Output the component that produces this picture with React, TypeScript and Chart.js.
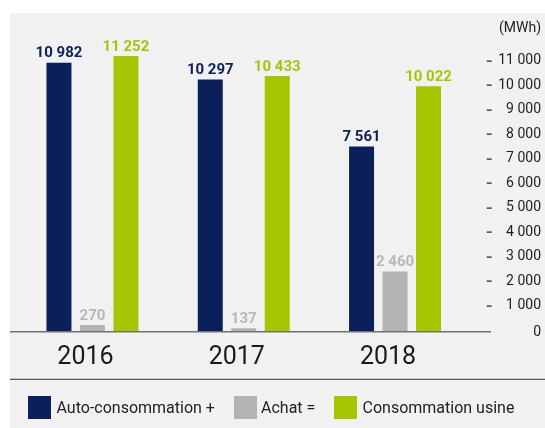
import React, { useEffect, useRef } from "react";
import { Chart, registerables } from "chart.js";

Chart.register(...registerables);

const years = ["2016", "2017", "2018"];
const autoConsommation = [10982, 10297, 7561];
const achat = [270, 137, 2460];
const consommationUsine = [11252, 10433, 10022];
const yTickValues = [0, 1000, 2000, 3000, 4000, 5000, 6000, 7000, 8000, 9000, 10000, 11000];
const unitLabel = "(MWh)";
const legendLabels = ["Auto-consommation +", "Achat =", "Consommation usine"];
const colors = ["#0b1f5a", "#b3b3b3", "#a6c400"];
const labelColors = ["#0e2058", "#b8b8b8", "#a8c40a"];

const fmt = (n: number) => String(n).replace(/\B(?=(\d{3})+(?!\d))/g, " ");

const PANEL_W = 535;
const PANEL_H = 415;

const decorPlugin = {
  id: "decor",
  afterDatasetsDraw(chart: any) {
    const ctx = chart.ctx;
    const x = chart.scales.x;
    const y = chart.scales.y;
    ctx.save();
    // value labels
    ctx.textAlign = "center";
    ctx.textBaseline = "alphabetic";
    ctx.font = "bold 15px Roboto";
    chart.data.datasets.forEach((ds: any, di: number) => {
      const meta = chart.getDatasetMeta(di);
      meta.data.forEach((bar: any, i: number) => {
        ctx.fillStyle = labelColors[di];
        ctx.fillText(fmt(ds.data[i]), bar.x, bar.y - 5.5);
      });
    });
    // baseline
    const y0 = y.getPixelForValue(0);
    ctx.strokeStyle = "#707070";
    ctx.lineWidth = 1.5;
    ctx.beginPath();
    ctx.moveTo(0, y0);
    ctx.lineTo(481, y0);
    ctx.stroke();
    // separator
    ctx.strokeStyle = "#5a5a5a";
    ctx.lineWidth = 1.3;
    ctx.beginPath();
    ctx.moveTo(0, 366.3);
    ctx.lineTo(PANEL_W, 366.3);
    ctx.stroke();
    // y ticks
    ctx.font = "14px Roboto";
    ctx.textAlign = "right";
    ctx.textBaseline = "middle";
    ctx.fillStyle = "#1e1e1e";
    yTickValues.forEach((v) => {
      const py = y.getPixelForValue(v) - (v === 0 ? -1 : 1.5);
      ctx.fillText(fmt(v), 531, py);
      if (v !== 0) {
        ctx.fillRect(476.7, Math.round(py) - 0.5, 5, 1.2);
      }
    });
    ctx.fillText(unitLabel, 531, 15.5);
    // year labels
    ctx.font = "25px Roboto";
    ctx.textAlign = "center";
    ctx.fillStyle = "#1a1a1a";
    years.forEach((yr, i) => {
      ctx.fillText(yr, x.getPixelForValue(i) - 7, 344.5);
    });
    ctx.restore();
  },
};

export default function App() {
  const ref = useRef<HTMLCanvasElement>(null);
  useEffect(() => {
    document.body.style.margin = "0";
    document.body.style.overflow = "hidden";
    document.documentElement.style.overflow = "hidden";
    if (!ref.current) return;
    const chart = new Chart(ref.current, {
      type: "bar",
      data: {
        labels: years,
        datasets: [
          { label: legendLabels[0], data: autoConsommation, backgroundColor: colors[0] },
          { label: legendLabels[1], data: achat, backgroundColor: colors[1] },
          { label: legendLabels[2], data: consommationUsine, backgroundColor: colors[2] },
        ].map((d) => ({ ...d, borderWidth: 0, categoryPercentage: 0.664, barPercentage: 0.746 })),
      },
      options: {
        animation: false,
        responsive: false,
        devicePixelRatio: 1,
        layout: { padding: { left: 6.8, right: 74.3, top: 24.7, bottom: 96.3 } },
        plugins: { legend: { display: false }, tooltip: { enabled: false } },
        scales: {
          x: { display: false },
          y: { display: false, min: 0, max: 12000, ticks: { stepSize: 1000 } },
        },
      },
      plugins: [decorPlugin],
    });
    return () => chart.destroy();
  }, []);

  const legendPos = [
    { sq: 28, tx: 56.5 },
    { sq: 233.5, tx: 261 },
    { sq: 333.5, tx: 362.5 },
  ];

  return (
    <div style={{ position: "fixed", left: 0, top: 0, width: 545, height: 428, overflow: "hidden", background: "#fff" }}>
      <div
        style={{
          position: "absolute",
          left: 10,
          top: 13,
          width: PANEL_W,
          height: PANEL_H,
          background: "#f1f1f1",
        }}
      >
        <canvas ref={ref} width={PANEL_W} height={PANEL_H} style={{ display: "block" }} />
        {legendLabels.map((lab, i) => (
          <React.Fragment key={lab}>
            <div
              style={{
                position: "absolute",
                left: legendPos[i].sq - 10,
                top: 383,
                width: 23,
                height: 23,
                background: colors[i],
              }}
            />
            <div
              style={{
                position: "absolute",
                left: legendPos[i].tx - 10,
                top: 383,
                height: 23,
                lineHeight: "23px",
                fontFamily: "Roboto",
                fontSize: 16,
                color: "#222",
                whiteSpace: "nowrap",
              }}
            >
              {lab}
            </div>
          </React.Fragment>
        ))}
      </div>
    </div>
  );
}
